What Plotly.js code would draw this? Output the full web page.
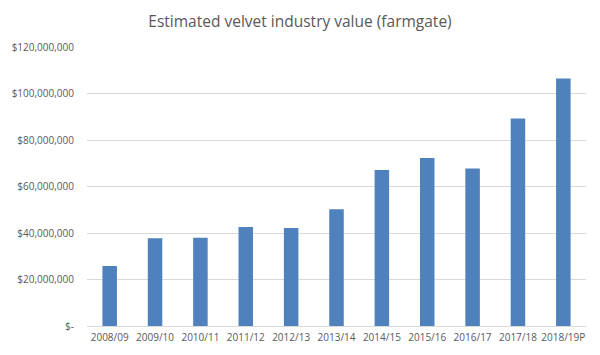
<!DOCTYPE html>
<html><head><meta charset="utf-8">
<script src="https://cdn.plot.ly/plotly-3.0.1.min.js"></script>
<style>html,body{margin:0;padding:0;background:#fff}#chart{width:600px;height:355px}</style>
</head><body><div id="chart"></div>
<script>
const categories = ["2008/09","2009/10","2010/11","2011/12","2012/13","2013/14","2014/15","2015/16","2016/17","2017/18","2018/19P"];
const values = [25800000,37700000,38000000,42600000,42200000,50200000,67100000,72300000,67700000,89300000,106500000];
const yTickVals = [0,20000000,40000000,60000000,80000000,100000000,120000000];
const yTickText = ["$-","$20,000,000","$40,000,000","$60,000,000","$80,000,000","$100,000,000","$120,000,000"];

const trace = {type:'bar', x:categories, y:values, marker:{color:'#4f81bd'}, hoverinfo:'none'};
const layout = {
  width:600, height:355,
  margin:{l:87, r:14, t:47, b:29},
  paper_bgcolor:'#fff', plot_bgcolor:'#fff',
  bargap:0.68,
  showlegend:false,
  title:{text:'Estimated velvet industry value (farmgate)', x:0.5, xanchor:'center', y:0.94, yanchor:'middle',
         font:{family:'Open Sans, sans-serif', size:15.5, color:'#595959'}},
  font:{family:'Open Sans, sans-serif', size:10, color:'#595959'},
  xaxis:{type:'category', showgrid:false, zeroline:false, showline:false, ticks:'', tickangle:0, ticklabelstandoff:4,
         tickfont:{size:10, color:'#595959'}},
  yaxis:{range:[0,120000000], tickvals:yTickVals, ticktext:yTickText, showgrid:true, gridcolor:'#d9d9d9', gridwidth:1,
         zeroline:true, zerolinecolor:'#d9d9d9', zerolinewidth:1, showline:false, ticks:'', ticklabelstandoff:12,
         tickfont:{size:10, color:'#595959'}}
};
Plotly.newPlot('chart',[trace],layout,{displayModeBar:false, staticPlot:true});
</script></body></html>
